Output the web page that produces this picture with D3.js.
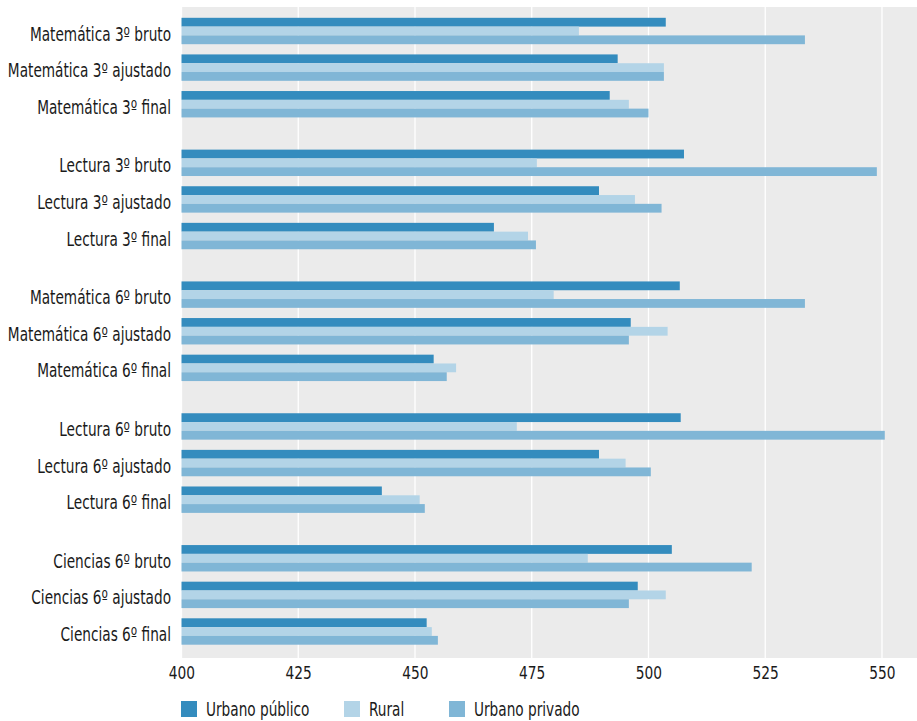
<!DOCTYPE html>
<html><head><meta charset="utf-8">
<script src="https://cdn.jsdelivr.net/npm/d3@7"></script>
<style>
body{margin:0;background:#fff;}
text{font-family:"DejaVu Sans Condensed","DejaVu Sans",sans-serif;font-stretch:condensed;fill:#1a1a1a;}
</style></head>
<body><svg id="c" width="917" height="721"></svg>
<script>
const groups = ["Matemática 3º","Lectura 3º","Matemática 6º","Lectura 6º","Ciencias 6º"];
const kinds = ["bruto","ajustado","final"];
const series = ["Urbano público","Rural","Urbano privado"];
const colors = ["#348cbe","#b3d4e7","#80b6d6"];
// values per row (group x kind), order: groups then kinds
const urbanoPublico = [503.7,493.4,491.7, 507.6,489.4,466.9, 506.7,496.2,454.0, 506.9,489.4,442.9, 505.0,497.7,452.5];
const rural         = [485.1,503.3,495.8, 476.1,497.1,474.2, 479.7,504.1,458.8, 471.8,495.1,451.0, 487.0,503.7,453.6];
const urbanoPrivado = [533.5,503.3,500.0, 548.9,502.8,475.9, 533.5,495.8,456.8, 550.6,500.5,452.1, 522.1,495.8,454.9];
const xTicks = [400,425,450,475,500,525,550];

const svg = d3.select("#c");
const L=181.5, R=917, T=7, B=658;
const x = d3.scaleLinear().domain([400,557.5]).range([L,R]);
const gapSlots = 0.6;
const slot = (g,i)=> g*(3+gapSlots)+i;
const y = d3.scaleLinear().domain([0, slot(4,2)]).range([31,631.5]);
const barH = 8.8;
const SX = 0.8;

const rows=[];
groups.forEach((g,gi)=>kinds.forEach((k,ki)=>{
  const idx=gi*3+ki;
  rows.push({label:g+" "+k, s:slot(gi,ki), vals:[urbanoPublico[idx],rural[idx],urbanoPrivado[idx]]});
}));

svg.append("rect").attr("x",L).attr("y",T).attr("width",R-L).attr("height",B-T).attr("fill","#ebebeb");
svg.append("g").selectAll("line").data(xTicks).join("line")
  .attr("x1",d=>x(d)).attr("x2",d=>x(d)).attr("y1",T).attr("y2",B)
  .attr("stroke","#fff").attr("stroke-width",1.3);

const rg = svg.append("g").selectAll("g").data(rows).join("g");
rg.selectAll("rect").data(d=>d.vals.map((v,j)=>({v,j,s:d.s}))).join("rect")
  .attr("x",x(400)).attr("y",d=>y(d.s)-1.5*barH+d.j*barH)
  .attr("width",d=>x(d.v)-x(400)).attr("height",barH)
  .attr("fill",d=>colors[d.j]);

// y labels
svg.append("g").selectAll("g").data(rows).join("g")
  .attr("transform",d=>`translate(171,${y(d.s)}) scale(${SX},1)`)
  .append("text").attr("dy","0.5em")
  .attr("text-anchor","end").attr("font-size",19).text(d=>d.label);

// x axis
const xa = d3.axisBottom(x).tickValues(xTicks).tickSize(0).tickPadding(9).tickFormat(d3.format("d"));
const ax = svg.append("g").attr("transform",`translate(0,${B})`).call(xa);
ax.select(".domain").remove();
ax.selectAll("text").attr("font-size",17).attr("fill","#1a1a1a")
  .attr("transform","scale(0.9,1)")
  .style("font-family",'"DejaVu Sans Condensed","DejaVu Sans",sans-serif');

// legend
const legX=[181,344,449];
const lg = svg.append("g").selectAll("g").data(series).join("g")
  .attr("transform",(d,i)=>`translate(${legX[i]},701)`);
lg.append("rect").attr("width",16).attr("height",16).attr("fill",(d,i)=>colors[i]);
lg.append("g").attr("transform",`translate(25,8) scale(${SX},1)`)
  .append("text").attr("dy","0.38em").attr("font-size",19).text(d=>d);
</script></body></html>
